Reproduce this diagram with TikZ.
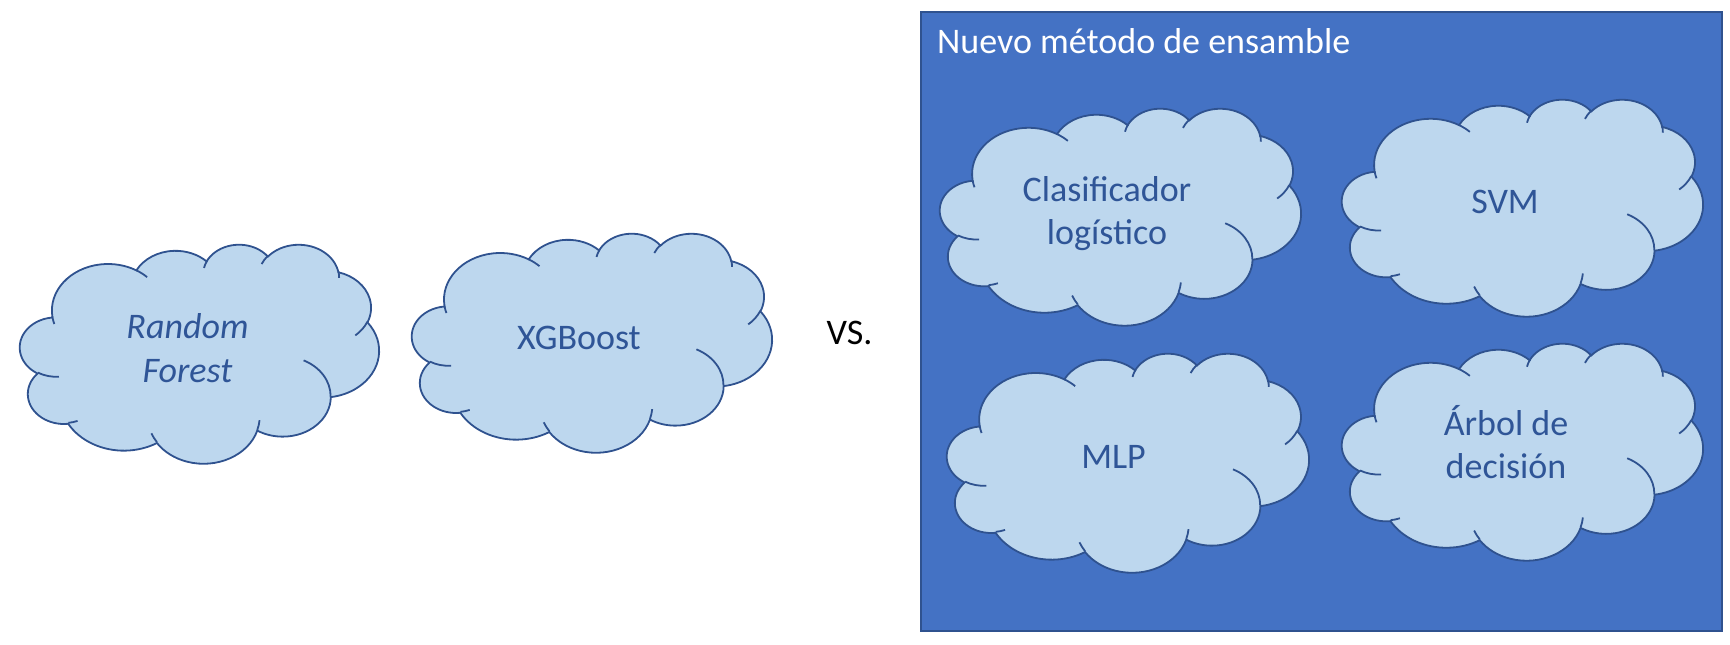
\documentclass[tikz,border=0pt]{standalone}
\usepackage{fontspec}
\setmainfont{Carlito}
\usetikzlibrary{positioning}

\definecolor{boxblue}{HTML}{4472C4}
\definecolor{boxedge}{HTML}{2F528F}
\definecolor{cloudfill}{HTML}{BDD7EE}
\definecolor{cloudedge}{HTML}{2F528F}
\definecolor{cloudink}{HTML}{2F5597}

% parametric angle of the point seen at angle #3 on an ellipse with radii #1, #2
\pgfmathdeclarefunction{visang}{3}{%
  \pgfmathparse{atan2(#1*sin(#3), #2*cos(#3))}%
}
% arc given like in the Office shape file: radii, start angle, sweep
\newcommand{\oarc}[4]{%
  arc[x radius=#1, y radius=#2, start angle={visang(#1,#2,#3)},
      delta angle={mod(visang(#1,#2,#3+#4)-visang(#1,#2,#3)+720,360)}]}

\begin{document}
\begin{tikzpicture}[
        x=1pt,   % 1 px = 1pt
        y=-1pt,  % y runs downwards, as in the screenshot
        cloudline/.style={draw=cloudedge, line width=1.8pt},
        cloudtext/.style={font=\fontsize{36}{43.5}\selectfont, text=cloudink, align=center, inner sep=0pt, anchor=base},
    ]
    \useasboundingbox (0,0) rectangle (1730,645);

    % Ensemble box
    \draw[fill=boxblue, draw=boxedge, line width=2pt] (921,12) rectangle (1722,631);
    \node[anchor=base west, font=\fontsize{36}{43.5}\selectfont, text=white, inner sep=0pt] (title) at (937,53) {Nuevo método de ensamble};

    % Clouds (Office cloud outline, 43200 units taken as 4320)
    \foreach \cx/\cy/\cw/\ch in {20/244/359/219, 412/233/360/219, 940/108/361/217,
                                 1342/99/361/217, 947/353/362/219, 1342/343/361/217} {
        \pgfmathsetmacro\ux{\cw/4320}
        \pgfmathsetmacro\uy{\ch/4320}
        \begin{scope}[shift={(\cx,\cy)}, x=\ux pt, y=-\uy pt]
            \filldraw[fill=cloudfill, cloudline] (390,1437)
                \oarc{675.3}{919.0}{-190.4875}{123.7805}
                \oarc{533.3}{726.7}{-144.1024}{89.9452}
                \oarc{436.5}{594.5}{-145.8079}{99.7230}
                \oarc{485.7}{659.5}{-130.9861}{117.2417}
                \oarc{533.3}{727.3}{-78.7089}{109.0269}
                \oarc{677.5}{922.0}{-46.2673}{130.2690}
                \oarc{578.5}{786.7}{0.6250}{114.0333}
                \oarc{675.2}{921.5}{22.4516}{115.1726}
                \oarc{772.0}{1054.3}{66.2426}{75.7110}
                \oarc{436.0}{591.8}{-274.9421}{146.7356}
                \oarc{434.5}{594.5}{-246.8285}{152.5189} -- cycle;
            % inner puff lines
            \draw[cloudline]
                (469.3,2617.7) \oarc{434.5}{594.5}{86.7420}{26.4295}
                (692.8,3489.9) \oarc{436.0}{591.8}{73.6105}{11.4475}
                (1647.8,3909.0) \oarc{675.2}{921.5}{137.6242}{14.0811}
                (2882.7,3475.1) \oarc{675.2}{921.5}{6.4533}{15.9984}
                (3412.9,2295.4) \oarc{578.5}{786.7}{-70.2924}{70.9174}
                (4179.8,1535.4) \oarc{533.3}{727.3}{30.3180}{27.7515}
                (3832.4,542.6) \oarc{485.7}{659.5}{-13.7443}{14.8512}
                (2907.8,395.2) \oarc{485.7}{659.5}{-149.1815}{18.1937}
                (2214.1,472.0) \oarc{436.5}{594.5}{-163.4943}{17.6953}
                (1400.0,519.2) \oarc{675.3}{919.0}{-66.7070}{12.3194}
                (412.7,1578.9) \oarc{675.3}{919.0}{157.6544}{11.8582};
        \end{scope}
    }

    % Cloud labels (two-line labels sit on their last baseline)
    \node[cloudtext, font=\fontsize{36}{43.5}\selectfont\itshape] (rf) at (187.5,382) {Random\\Forest};
    \node[cloudtext] (xgb) at (579,349) {XGBoost};
    \node[cloudtext] (logit) at (1107,244.5) {Clasificador\\logístico};
    \node[cloudtext] (svm) at (1505,213) {SVM};
    \node[cloudtext] (mlp) at (1113.5,468) {MLP};
    \node[cloudtext] (tree) at (1506,478.5) {Árbol de\\decisión};

    % Comparison mark
    \node[anchor=base, font=\fontsize{36}{43.5}\selectfont, inner sep=0pt] (vs) at (849.5,344) {VS.};

\end{tikzpicture}
\end{document}
